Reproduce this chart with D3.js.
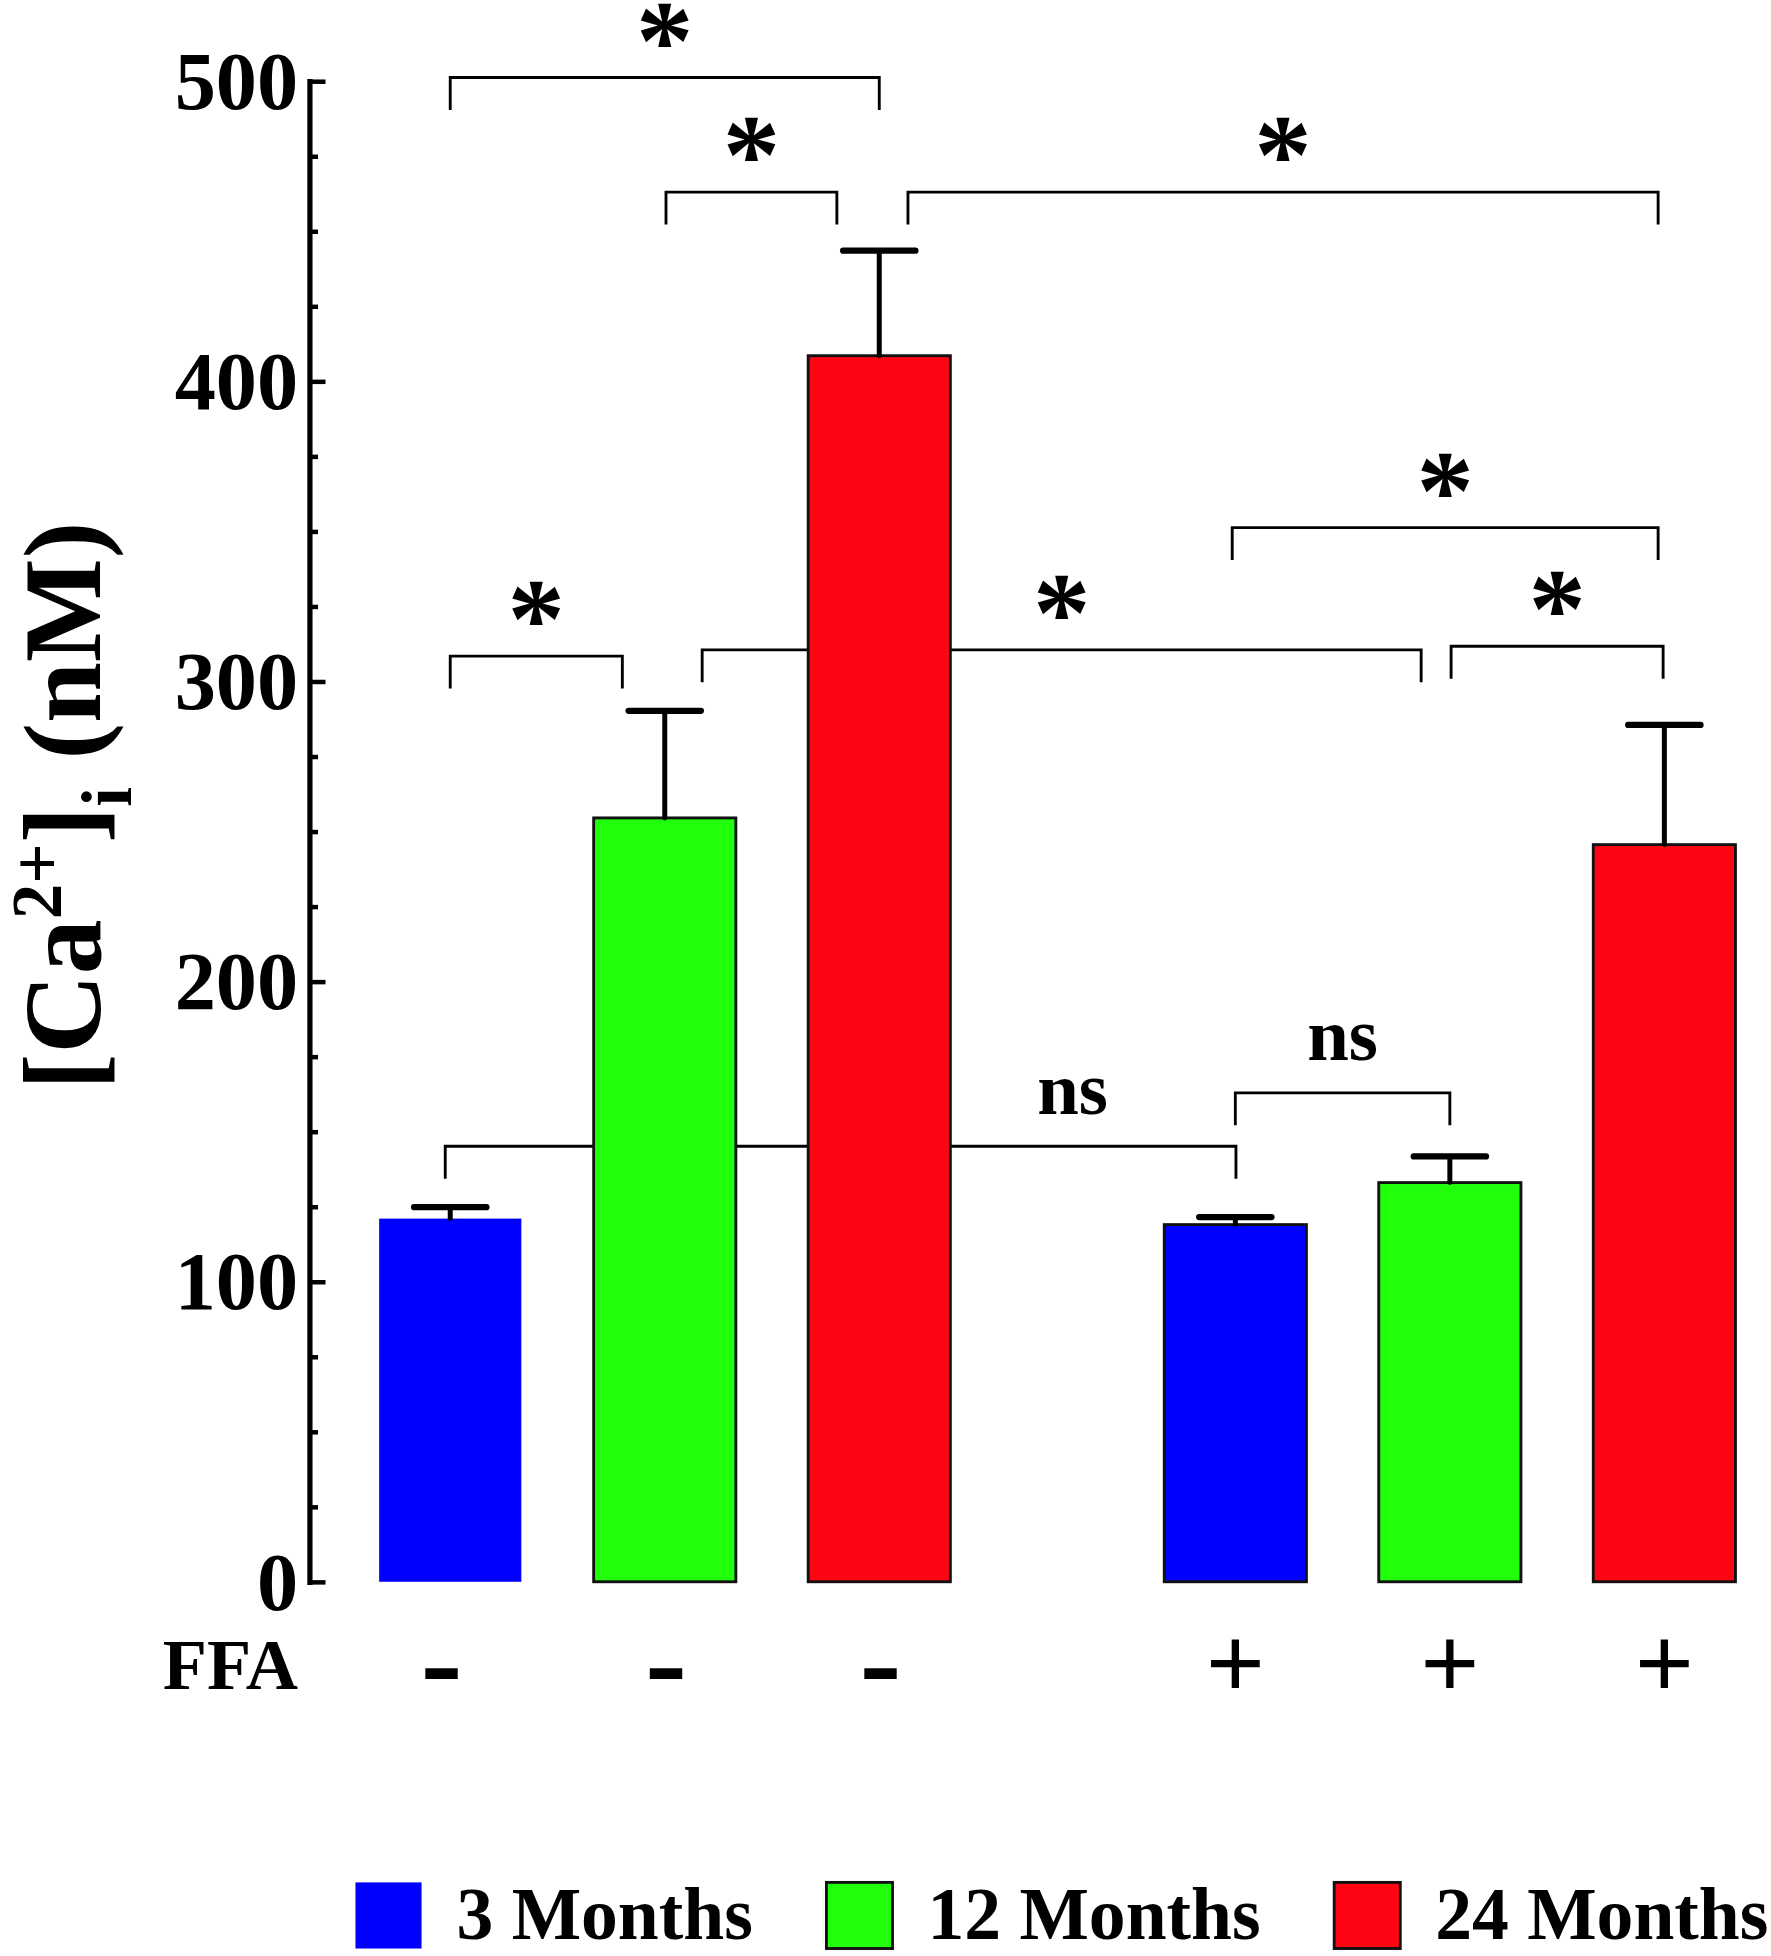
<!DOCTYPE html>
<html><head><meta charset="utf-8">
<script src="https://cdn.jsdelivr.net/npm/d3@7"></script>
<style>
html,body{margin:0;padding:0;background:#fff;}
svg{display:block;}
text{font-family:"Liberation Serif","Times New Roman",serif;font-weight:bold;fill:#000;}
</style>
</head><body>
<svg id="chart"></svg>
<script>
// ---------- DATA ----------
const ffaGroups = ["-", "+"];
const ages = ["3 Months", "12 Months", "24 Months"];
const meanNoFFA = [121, 254.5, 408.5];
const semNoFFA  = [3.8, 35.7, 35];
const meanFFA   = [119, 133, 245.6];
const semFFA    = [2.5, 8.7, 39.9];
const yTicks = [0, 100, 200, 300, 400, 500];
const yMinorTicks = [25, 50, 75, 125, 150, 175, 225, 250, 275, 325, 350, 375, 425, 450, 475];
const rowLabel = "FFA";
// significance brackets: bar indices (0-5), bracket height (nM), label
const bracketFrom  = [0, 1, 2, 3, 4, 0, 1, 0, 3];
const bracketTo    = [2, 2, 5, 5, 5, 1, 4, 3, 4];
const bracketY     = [501.2, 463, 463, 351.2, 311.7, 308.4, 310.5, 145.1, 162.9];
const bracketLabel = ["*", "*", "*", "*", "*", "*", "*", "ns", "ns"];

// ---------- LAYOUT / STYLE ----------
const W = 1420, H = 1568;
const colors = ["#0000FF", "#22FF0C", "#FF0412"];
const barOutline = [false, true, true, true, true, true];
// end nudges (px) so adjacent brackets don't touch
const nudgeFrom = [0, 1, 23, -2.5, 1, 0, 30, -4, 0];
const nudgeTo   = [0, -34, -5, -5, -1, -34, -23, 0.5, 0];
const labelNudge = [0, 0, 0, 0, 0, 0, 0, 186, 0];
const signNudge = [-7, 1, 1, 0, 0, 0];

const svg = d3.select("#chart")
  .attr("width", 1771).attr("height", 1956)
  .attr("viewBox", `0 0 ${W} ${H}`)
  .attr("preserveAspectRatio", "none");

const y = d3.scaleLinear().domain([0, 500]).range([1268, 65]);
const outer = d3.scaleBand().domain(ffaGroups).range([275, 1420.5]).paddingInner(0.1803).paddingOuter(0);
const inner = d3.scaleBand().domain(ages).range([0, outer.bandwidth()]).paddingInner(0.3372).paddingOuter(0.1686);

const bars = [];
ffaGroups.forEach((g, gi) => {
  const m = gi === 0 ? meanNoFFA : meanFFA;
  const s = gi === 0 ? semNoFFA : semFFA;
  ages.forEach((a, ai) => bars.push({group: g, age: a, ai, mean: m[ai], sem: s[ai]}));
});
const xLeft = d => outer(d.group) + inner(d.age);
const xCenter = i => xLeft(bars[i]) + inner.bandwidth() / 2;

// ---------- BRACKETS (behind bars) ----------
const drop = 26;
const bracketData = bracketFrom.map((f, i) => ({
  x1: xCenter(f) + nudgeFrom[i], x2: xCenter(bracketTo[i]) + nudgeTo[i],
  yv: bracketY[i], label: bracketLabel[i], ln: labelNudge[i]
}));
svg.append("g").selectAll("path").data(bracketData).join("path")
  .attr("d", d => { const yy = y(d.yv); return `M${d.x1},${yy + drop}V${yy}H${d.x2}V${yy + drop}`; })
  .attr("fill", "none").attr("stroke", "#000").attr("stroke-width", 2.3);

// ---------- BARS ----------
svg.append("g").selectAll("rect").data(bars).join("rect")
  .attr("x", d => xLeft(d)).attr("width", inner.bandwidth())
  .attr("y", d => y(d.mean)).attr("height", d => y(0) - y(d.mean))
  .attr("fill", d => colors[d.ai])
  .attr("stroke", (d, i) => barOutline[i] ? "#111" : "none")
  .attr("stroke-width", 2.3);

// ---------- ERROR BARS ----------
const eg = svg.append("g").attr("stroke", "#000").attr("stroke-linecap", "round");
eg.selectAll("line.stem").data(bars).join("line").attr("class", "stem")
  .attr("x1", d => xLeft(d) + inner.bandwidth() / 2).attr("x2", d => xLeft(d) + inner.bandwidth() / 2)
  .attr("y1", d => y(d.mean)).attr("y2", d => y(d.mean + d.sem))
  .attr("stroke-width", 4);
eg.selectAll("line.cap").data(bars).join("line").attr("class", "cap")
  .attr("x1", d => xLeft(d) + inner.bandwidth() / 2 - 29).attr("x2", d => xLeft(d) + inner.bandwidth() / 2 + 29)
  .attr("y1", d => y(d.mean + d.sem)).attr("y2", d => y(d.mean + d.sem))
  .attr("stroke-width", 5);

// ---------- BRACKET LABELS ----------
svg.append("g").selectAll("text").data(bracketData).join("text")
  .attr("x", d => (d.x1 + d.x2) / 2 + d.ln)
  .attr("y", d => d.label === "*" ? y(d.yv) + 1 : y(d.yv) - 26)
  .attr("text-anchor", "middle")
  .attr("font-size", d => d.label === "*" ? 92 : 60)
  .text(d => d.label);

// ---------- Y AXIS ----------
const axisG = svg.append("g").attr("transform", "translate(248,0)");
axisG.call(d3.axisLeft(y).tickValues(yMinorTicks).tickSize(-7).tickFormat(""))
  .call(g => g.select(".domain").remove());
axisG.selectAll(".tick line").attr("stroke-width", 3.6);
const majorG = svg.append("g").attr("transform", "translate(248,0)");
majorG.call(d3.axisLeft(y).tickValues(yTicks).tickSize(-13).tickPadding(9).tickSizeOuter(0));
majorG.select(".domain").attr("stroke-width", 4.2).attr("stroke-linecap", "square");
majorG.selectAll(".tick line").attr("stroke-width", 3.6);
majorG.selectAll(".tick text")
  .attr("font-family", '"Liberation Serif","Times New Roman",serif')
  .attr("font-weight", "bold").attr("font-size", 66).attr("dy", "0.33em");

// Y label: [Ca2+]i (nM)
const yl = svg.append("text")
  .attr("transform", "translate(80,646) rotate(-90)")
  .attr("text-anchor", "middle").attr("font-size", 88);
yl.append("tspan").text("[Ca");
yl.append("tspan").attr("dy", -31).attr("font-size", 57).text("2+");
yl.append("tspan").attr("dy", 31).text("]");
yl.append("tspan").attr("dy", 25).attr("font-size", 57).text("i");
yl.append("tspan").attr("dy", -25).text("\u00A0(nM)");

// ---------- FFA ROW ----------
svg.append("text").attr("x", 239).attr("y", 1354).attr("text-anchor", "end")
  .attr("font-size", 58).text(rowLabel);
svg.append("g").selectAll("text").data(bars).join("text")
  .attr("x", (d, i) => xCenter(i) + signNudge[i])
  .attr("y", d => d.group === "+" ? 1361 : 1365)
  .attr("text-anchor", "middle")
  .attr("font-size", d => d.group === "+" ? 84 : 100)
  .text(d => d.group);

// ---------- LEGEND ----------
const lg = svg.append("g");
let cx = 285;
ages.forEach((a, i) => {
  lg.append("rect").attr("x", cx).attr("y", 1509).attr("width", 53).attr("height", 53)
    .attr("fill", colors[i]).attr("stroke", i === 0 ? "none" : "#111").attr("stroke-width", 2.3);
  const t = lg.append("text").attr("x", cx + 81).attr("y", 1554).attr("font-size", 59).text(a);
  cx = cx + 81 + t.node().getComputedTextLength() + 59;
});
</script>
</body></html>
